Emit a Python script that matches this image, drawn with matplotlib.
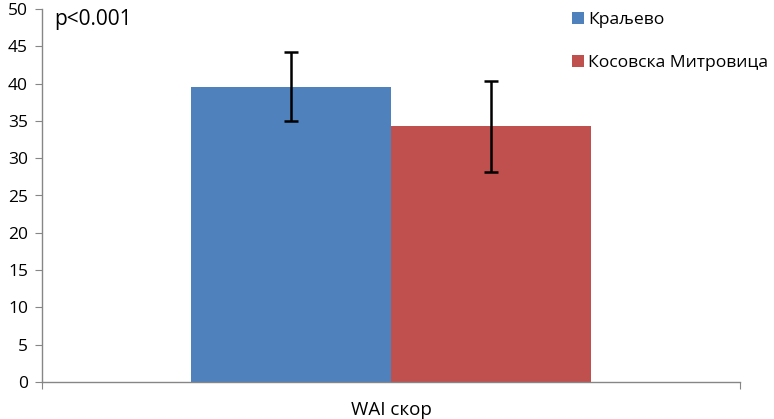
import matplotlib
matplotlib.use("Agg")
import matplotlib.pyplot as plt
import numpy as np

plt.rcParams['font.family'] = ['Open Sans', 'DejaVu Sans']

category = "WAI скор"
series = ["Краљево", "Косовска Митровица"]
means = [39.6, 34.3]
errors = [4.65, 6.1]
colors = ["#4F81BD", "#C0504D"]
yticks = list(range(0, 51, 5))

fig = plt.figure(figsize=(7.74, 4.19), dpi=100)
ax = fig.add_axes([42/774, 1-382/419, (740-42)/774, (382-9)/419])

width = 200/698
offsets = [-width/2, width/2]
for i, (s, m, e, c) in enumerate(zip(series, means, errors, colors)):
    ax.bar(offsets[i], m, width=width, color=c, label=s, zorder=2)
    ax.errorbar(offsets[i], m, yerr=e, fmt='none', ecolor='black',
                elinewidth=1.8, capsize=5, capthick=1.8, zorder=3)

ax.set_xlim(-0.5, 0.5)
ax.set_ylim(0, 50)
ax.set_yticks(yticks)
ax.set_yticklabels([str(t) for t in yticks], fontsize=12.5)
ax.set_xticks([-0.5, 0.5])
ax.set_xticklabels(["", ""])
ax.tick_params(axis='x', direction='out', length=5, color='#868686')
ax.tick_params(axis='y', direction='out', length=5, color='#868686', pad=5)
fig.text(391/774, 1-410/419, category, ha='center', va='center', fontsize=13.5)
for sp in ['top', 'right']:
    ax.spines[sp].set_visible(False)
for sp in ['left', 'bottom']:
    ax.spines[sp].set_color('#868686')
    ax.spines[sp].set_linewidth(1)

fig.text(54/774, 1-20/419, "p<0.001", fontsize=15, ha='left', va='center')

leg = fig.legend(loc='upper left', bbox_to_anchor=(565/774, 1-5/419), frameon=False,
                 fontsize=12.6, handlelength=0.68, handleheight=0.68, handletextpad=0.25,
                 labelspacing=1.55, borderaxespad=0, borderpad=0.4)

fig.savefig("out.png", dpi=100)
